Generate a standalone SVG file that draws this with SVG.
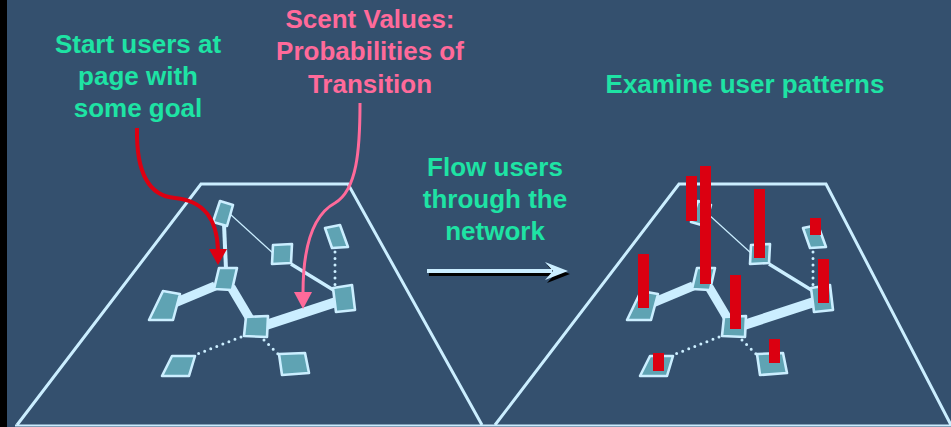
<svg xmlns="http://www.w3.org/2000/svg" xmlns:xlink="http://www.w3.org/1999/xlink" width="951" height="427" viewBox="0 0 951 427">
<style>
.bg{fill:#34506E}
.trap{fill:none;stroke:#CBEEFF;stroke-width:3;stroke-linejoin:miter}
.node{fill:#5FA3B3;stroke:#CBEEFF;stroke-width:2.6;stroke-linejoin:round}
.e{stroke:#CBEEFF;fill:none;stroke-linecap:butt}
.dot{stroke:#CBEEFF;fill:none;stroke-width:3;stroke-linecap:round;stroke-dasharray:0 6.5}
.bar{fill:#DB0011}
.t{font-family:"Liberation Sans",Arial,sans-serif;font-weight:bold;font-size:26px;text-anchor:middle}
.g{fill:#1EE3A4}
.p{fill:#FF6A9A}
</style>
<rect class="bg" x="0" y="0" width="951" height="427"/>
<rect x="0" y="0" width="7" height="427" fill="#000"/>

<g id="panels">
<polyline class="trap" points="17,425 201,184 348,184 482,425"/>
<polyline class="trap" points="495,425 679,184 826,184 951,425"/>
<line x1="15" y1="425.5" x2="951" y2="425.5" stroke="#CBEEFF" stroke-width="2"/>
</g>

<g id="connectors">
<g id="left-edges">
<line class="e" x1="224" y1="224" x2="226" y2="269" stroke-width="4"/>
<line class="e" x1="230" y1="214" x2="274" y2="254" stroke-width="1.2"/>
<line class="e" x1="291" y1="264" x2="335" y2="291" stroke-width="3.5"/>
<line class="dot" x1="335" y1="252" x2="335" y2="285"/>
<line class="e" x1="215" y1="286" x2="172" y2="304" stroke-width="9"/>
<line class="e" x1="231" y1="287" x2="250" y2="319" stroke-width="9"/>
<line class="e" x1="266" y1="325" x2="336" y2="302" stroke-width="10"/>
<line class="dot" x1="241" y1="337" x2="195" y2="355"/>
<line class="dot" x1="264" y1="340" x2="278" y2="354"/>
</g>
<g id="right-edges" transform="translate(478,0)">
<line class="e" x1="224" y1="224" x2="226" y2="269" stroke-width="4"/>
<line class="e" x1="230" y1="214" x2="274" y2="254" stroke-width="1.2"/>
<line class="e" x1="291" y1="264" x2="335" y2="291" stroke-width="3.5"/>
<line class="dot" x1="335" y1="252" x2="335" y2="285"/>
<line class="e" x1="215" y1="286" x2="172" y2="304" stroke-width="9"/>
<line class="e" x1="231" y1="287" x2="250" y2="319" stroke-width="9"/>
<line class="e" x1="266" y1="325" x2="336" y2="302" stroke-width="10"/>
<line class="dot" x1="241" y1="337" x2="195" y2="355"/>
<line class="dot" x1="264" y1="340" x2="278" y2="354"/>
</g>
</g>

<g id="left-nodes">
<g id="nA"><polygon class="node" points="220,201 233,205 227,226 213,222"/></g>
<g id="nB"><polygon class="node" points="273,245 292,244 291,263 272,264"/></g>
<g id="nC"><polygon class="node" points="325,228 340,225 348,247 332,248"/></g>
<g id="nD"><polygon class="node" points="219,268 237,268 232,290 214,289"/></g>
<g id="nE"><polygon class="node" points="163,291 180,294 173,320 149,320"/></g>
<g id="nF"><polygon class="node" points="333,288 352,285 355,310 336,312"/></g>
<g id="nG"><polygon class="node" points="246,317 268,316 267,337 244,336"/></g>
<g id="nH"><polygon class="node" points="172,356 195,356 189,376 162,376"/></g>
<g id="nI"><polygon class="node" points="279,354 305,353 309,373 282,375"/></g>
</g>

<g id="right-nodes" transform="translate(478,0)">
<g id="rA"><polygon class="node" points="220,201 233,205 227,226 213,222"/></g>
<g id="rB"><polygon class="node" points="273,245 292,244 291,263 272,264"/></g>
<g id="rC"><polygon class="node" points="325,228 340,225 348,247 332,248"/></g>
<g id="rD"><polygon class="node" points="219,268 237,268 232,290 214,289"/></g>
<g id="rE"><polygon class="node" points="163,291 180,294 173,320 149,320"/></g>
<g id="rF"><polygon class="node" points="333,288 352,285 355,310 336,312"/></g>
<g id="rG"><polygon class="node" points="246,317 268,316 267,337 244,336"/></g>
<g id="rH"><polygon class="node" points="172,356 195,356 189,376 162,376"/></g>
<g id="rI"><polygon class="node" points="279,354 305,353 309,373 282,375"/></g>
</g>

<g id="bars">
<rect class="bar" x="686" y="176" width="11" height="45"/>
<rect class="bar" x="700" y="166" width="11" height="118"/>
<rect class="bar" x="754" y="189" width="11" height="69"/>
<rect class="bar" x="810" y="218" width="11" height="17"/>
<rect class="bar" x="818" y="259" width="11" height="44"/>
<rect class="bar" x="638" y="254" width="11" height="54"/>
<rect class="bar" x="730" y="275" width="11" height="54"/>
<rect class="bar" x="653" y="353" width="11" height="18"/>
<rect class="bar" x="769" y="339" width="11" height="24"/>
</g>

<g id="callout-arrows">
<path d="M137,128 C136,175 150,196 175,198 C205,201 217,220 218,250" fill="none" stroke="#DD0011" stroke-width="4"/>
<polygon points="209,249 227,249 218,265" fill="#DD0011"/>
<path d="M360,103 C360,150 357,190 335,203 C311,216 303,250 303,293" fill="none" stroke="#FF6A9A" stroke-width="3"/>
<polygon points="294,292 312,292 303,309" fill="#FF6A9A"/>
</g>

<g id="flow-arrow">
<g transform="translate(2,3)" fill="#000">
<rect x="427" y="269" width="125" height="4"/>
<path d="M545,262 L568,271 L545,280 L553,271 Z"/>
</g>
<g fill="#CBEEFF">
<rect x="427" y="269" width="125" height="4"/>
<path d="M545,262 L568,271 L545,280 L553,271 Z"/>
</g>
</g>

<g id="labels">
<text class="t g" x="138" y="53">Start users at</text>
<text class="t g" x="138" y="85">page with</text>
<text class="t g" x="138" y="117">some goal</text>
<text class="t p" x="370" y="28">Scent Values:</text>
<text class="t p" x="370" y="60">Probabilities of</text>
<text class="t p" x="370" y="93">Transition</text>
<text class="t g" x="495" y="176">Flow users</text>
<text class="t g" x="495" y="208">through the</text>
<text class="t g" x="495" y="240">network</text>
<text class="t g" x="745" y="93">Examine user patterns</text>
</g>
</svg>
